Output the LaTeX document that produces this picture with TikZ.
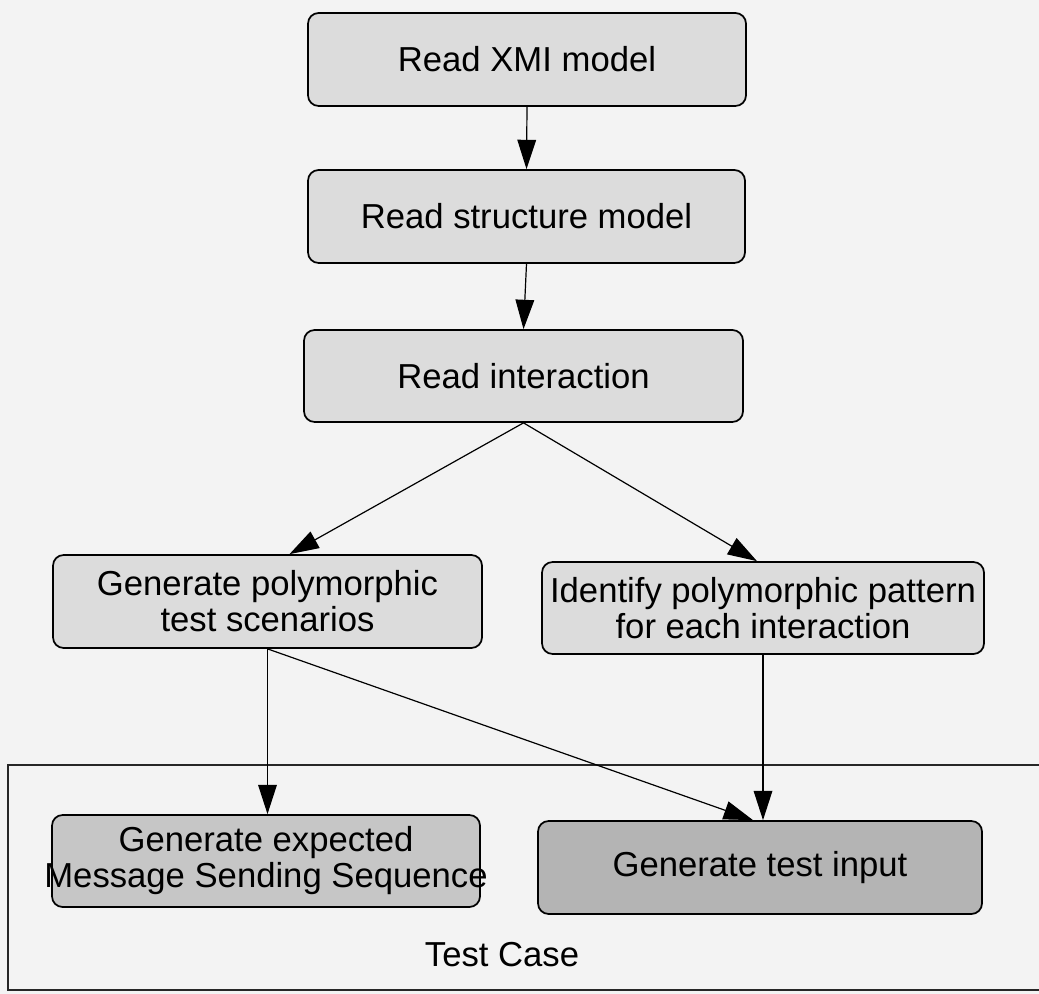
\documentclass[tikz,border=0pt]{standalone}
\usepackage{fontspec}
\setmainfont{Liberation Sans}
\usetikzlibrary{arrows.meta,calc}
\definecolor{bgc}{HTML}{F3F3F3}
\definecolor{upfill}{HTML}{DCDCDC}
\definecolor{lowfill}{HTML}{C6C6C6}
\definecolor{lowfillb}{HTML}{B4B4B4}
\tikzset{
  procbox/.style={draw=black, line width=1.3pt, rounded corners=8pt, fill=upfill,
    inner sep=0pt, align=center, font=\fontsize{26}{27}\selectfont},
  flow/.style={draw=black, line width=0.9pt, -{Triangle[length=22pt,width=14pt]}},
  frame/.style={draw=black!85, line width=1.0pt}
}
\begin{document}
\begin{tikzpicture}[x=0.75pt,y=-0.75pt]
  \fill[bgc] (0,0) rectangle (1039,994);
  \useasboundingbox (0,0) rectangle (1039,994);
  % outer frame "Test Case"
  \draw[frame] (1045,765) -- (8,765) -- (8,990) -- (1045,990);
  \node[font=\fontsize{26}{27}\selectfont] (tclabel) at (502,955) {Test Case};
  % nodes
  \node[procbox, minimum width=438*0.75pt, minimum height=93*0.75pt] (A) at (527,59.5) {Read XMI model};
  \node[procbox, minimum width=437*0.75pt, minimum height=93*0.75pt] (B) at (526.5,216.5) {Read structure model};
  \node[procbox, minimum width=439*0.75pt, minimum height=92*0.75pt] (C) at (523.5,376) {Read interaction};
  \node[procbox, minimum width=429*0.75pt, minimum height=93*0.75pt] (D) at (267.5,601.5) {Generate polymorphic\\test scenarios};
  \node[procbox, minimum width=442*0.75pt, minimum height=92*0.75pt] (E) at (763,608) {Identify polymorphic pattern\\for each interaction};
  \node[procbox, fill=lowfill, minimum width=428*0.75pt, minimum height=92*0.75pt] (F) at (266,861) {Generate expected\\\makebox[300pt][c]{Message Sending Sequence}};
  \node[procbox, fill=lowfillb, minimum width=444*0.75pt, minimum height=93*0.75pt] (G) at (760,867.5) {Generate test input};
  % connectors
  \draw[flow] (A.south) -- (B.north);
  \draw[flow] (B.south) -- (C.north);
  \draw[flow] (C.south) -- ($(D.north)+(22,0)$);
  \draw[flow] (C.south) -- ($(E.north)+(-6,0)$);
  \draw[flow] (D.south) -- (D.south |- F.north);
  \draw[flow] (D.south) -- ($(G.north)+(-7,0)$);
  \draw[flow] (E.south) -- (E.south |- G.north);
\end{tikzpicture}
\end{document}
